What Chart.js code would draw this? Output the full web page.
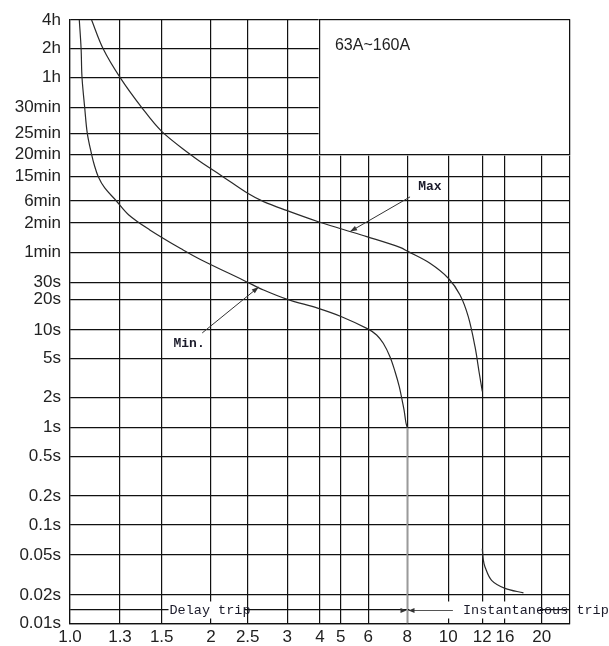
<!DOCTYPE html>
<html>
<head>
<meta charset="utf-8">
<title>Trip curve 63A~160A</title>
<script src="https://cdn.jsdelivr.net/npm/chart.js@4.4.1/dist/chart.umd.min.js"></script>
<style>
  html, body { margin: 0; padding: 0; background: #fff; }
  canvas { display: block; }
</style>
</head>
<body>
<canvas id="trip" width="609" height="646"></canvas>
<script>
// ---- Axis ticks -------------------------------------------------------
// Current as a multiple of the rated current (x axis)
const xTickValues = [1.0, 1.3, 1.5, 2, 2.5, 3, 4, 5, 6, 8, 10, 12, 16, 20, 25];
const xTickLabels = ['1.0', '1.3', '1.5', '2', '2.5', '3', '4', '5', '6', '8', '10', '12', '16', '20', ''];

// Trip time in seconds (y axis), bottom to top; 0.015 is the unlabelled trip-zone divider
const yTickValues = [0.01, 0.015, 0.02, 0.05, 0.1, 0.2, 0.5, 1, 2, 5, 10, 20, 30, 60, 120, 360, 900, 1200, 1500, 1800, 3600, 7200, 14400];
const yTickLabels = ['0.01s', '', '0.02s', '0.05s', '0.1s', '0.2s', '0.5s', '1s', '2s', '5s', '10s', '20s', '30s', '1min', '2min', '6min', '15min', '20min', '25min', '30min', '1h', '2h', '4h'];

// ---- Curves -----------------------------------------------------------
// Upper (max) band, delayed part
const maxCurrent = [1.12, 1.19, 1.3, 1.40, 1.5, 1.77, 1.88, 2.15, 2.5, 2.69, 3, 3.94, 5.09, 5.94, 7.58, 8.04, 9.05, 10, 10.65, 11.13, 11.54, 11.81, 12];
const maxTime    = [14400, 7200, 3600, 1800, 1520, 1200, 1090, 900, 480, 348, 222, 128, 103, 87, 67.5, 61, 46.7, 33.2, 22.2, 13.5, 6.64, 3.5, 2.3];

// Upper (max) band, instantaneous part
const maxInstCurrent = [12.0, 12.15, 12.42, 13.5, 16, 17.9];
const maxInstTime    = [0.058, 0.045, 0.038, 0.028, 0.0233, 0.021];

// Lower (min) band, delayed part
const minCurrent = [1.05, 1.06, 1.065, 1.08, 1.095, 1.12, 1.136, 1.16, 1.20, 1.27, 1.34, 1.44, 1.70, 1.88, 2.48, 2.69, 3, 3.94, 5.03, 6, 6.38, 6.70, 7.04, 7.31, 7.54, 7.68, 7.81, 7.92, 8];
const minTime    = [14400, 7200, 3600, 1800, 1500, 1200, 1046, 900, 588, 374, 179, 102, 63.4, 51, 30.7, 25.1, 20, 16.3, 13.5, 10.2, 8.85, 7.22, 5.2, 3.65, 2.57, 1.95, 1.5, 1.12, 1];

// Lower (min) band, instantaneous threshold
const minInstCurrent = [8, 8];
const minInstTime    = [1, 0.01];

// ---- Axis layout: where each tick sits along its axis (0 = start, 1 = end)
const xGridPositions = [0, 0.1, 0.1834, 0.282, 0.3554, 0.4346, 0.5, 0.5414, 0.5966, 0.6746, 0.7566, 0.8246, 0.87, 0.9434, 1];
const yGridPositions = [0, 0.022, 0.0469, 0.1132, 0.1629, 0.211, 0.2761, 0.3242, 0.3746, 0.4392, 0.4862, 0.537, 0.5646, 0.6149, 0.6635, 0.7, 0.7403, 0.7774, 0.8122, 0.8553, 0.905, 0.9524, 1];

const AXIS_LAYOUT = {
  x: { values: xTickValues, positions: xGridPositions, labels: xTickLabels },
  y: { values: yTickValues, positions: yGridPositions, labels: yTickLabels }
};

// Piecewise logarithmic position between neighbouring ticks
function toDecimal(layout, v) {
  const vs = layout.values, ps = layout.positions, n = vs.length;
  if (v <= vs[0]) return ps[0];
  if (v >= vs[n - 1]) return ps[n - 1];
  let i = 0;
  while (v > vs[i + 1]) i++;
  const t = Math.log(v / vs[i]) / Math.log(vs[i + 1] / vs[i]);
  return ps[i] + t * (ps[i + 1] - ps[i]);
}
function fromDecimal(layout, d) {
  const vs = layout.values, ps = layout.positions, n = vs.length;
  if (d <= ps[0]) return vs[0];
  if (d >= ps[n - 1]) return vs[n - 1];
  let i = 0;
  while (d > ps[i + 1]) i++;
  const t = (d - ps[i]) / (ps[i + 1] - ps[i]);
  return vs[i] * Math.pow(vs[i + 1] / vs[i], t);
}

// Scale whose ticks sit at fixed places along the axis
class StopScale extends Chart.Scale {
  static id = 'stops';
  static defaults = {};
  determineDataLimits() {
    const v = AXIS_LAYOUT[this.id].values;
    this.min = v[0];
    this.max = v[v.length - 1];
  }
  buildTicks() {
    return AXIS_LAYOUT[this.id].values.map(v => ({ value: v }));
  }
  getLabelForValue(v) { return String(v); }
  getPixelForValue(v) { return this.getPixelForDecimal(toDecimal(AXIS_LAYOUT[this.id], v)); }
  getPixelForTick(i) { return this.getPixelForValue(this.ticks[i].value); }
  getValueForPixel(p) { return fromDecimal(AXIS_LAYOUT[this.id], this.getDecimalForPixel(p)); }
}
Chart.register(StopScale);

const pts = (xs, ys) => xs.map((x, i) => ({ x: x, y: ys[i] }));

const INK = '#111';
const GRID_W = 1.2;
// same snapping Chart.js applies to its grid lines
const snap = p => Math.round(p - GRID_W / 2) + GRID_W / 2;
const crisp = p => Math.round(p - 0.5) + 0.5;

function arrowHead(ctx, fromX, fromY, toX, toY, len, half) {
  const a = Math.atan2(toY - fromY, toX - fromX);
  ctx.beginPath();
  ctx.moveTo(toX, toY);
  ctx.lineTo(toX - len * Math.cos(a) + half * Math.sin(a), toY - len * Math.sin(a) - half * Math.cos(a));
  ctx.lineTo(toX - len * Math.cos(a) - half * Math.sin(a), toY - len * Math.sin(a) + half * Math.cos(a));
  ctx.closePath();
  ctx.fill();
}

// Annotation anchors, in axis units (current multiple, seconds)
const ratingText = '63A~160A';
const ratingAt = { x: 4.70, y: 7740 };
const maxNote = { text: 'Max', at: { x: 9.05, y: 610 }, from: { x: 8.12, y: 420 }, to: { x: 5.32, y: 98 } };
const minNote = { text: 'Min.', at: { x: 1.76, y: 7.1 }, from: { x: 1.90, y: 9.3 }, to: { x: 2.63, y: 27 } };
const delayText = 'Delay trip';
const instText = 'Instantaneous trip';
const tripRow = 0.015;
const delayAt = 1.57;
const instAt = 10.82;
const instShaftEnd = 10.25;
const tripLimit = 8;

const annotations = {
  id: 'annotations',
  beforeDatasetsDraw(chart) {
    const { ctx, chartArea: a, scales: { x, y } } = chart;
    // Blank panel holding the rating, top right
    const xl = snap(x.getPixelForValue(4));
    const xr = snap(x.getPixelForValue(xTickValues[xTickValues.length - 1]));
    const yt = snap(y.getPixelForValue(yTickValues[yTickValues.length - 1]));
    const yb = snap(y.getPixelForValue(1200));
    ctx.save();
    ctx.fillStyle = '#fff';
    ctx.fillRect(xl - 1, yt - 1, xr - xl + 2, yb - yt + 2);
    ctx.strokeStyle = INK;
    ctx.lineWidth = GRID_W;
    ctx.strokeRect(xl, yt, xr - xl, yb - yt);
    ctx.fillStyle = '#222';
    ctx.font = '16px "Liberation Sans", Arial, sans-serif';
    ctx.textBaseline = 'middle';
    ctx.textAlign = 'left';
    ctx.fillText(ratingText, x.getPixelForValue(ratingAt.x), y.getPixelForValue(ratingAt.y));
    ctx.restore();
  },
  afterDatasetsDraw(chart) {
    const { ctx, scales: { x, y } } = chart;
    ctx.save();
    ctx.strokeStyle = '#333';
    ctx.fillStyle = '#333';
    ctx.lineWidth = 1;
    // Max / Min pointers
    [maxNote, minNote].forEach(n => {
      const fx = x.getPixelForValue(n.from.x), fy = y.getPixelForValue(n.from.y);
      const tx = x.getPixelForValue(n.to.x), ty = y.getPixelForValue(n.to.y);
      ctx.beginPath();
      ctx.moveTo(fx, fy);
      ctx.lineTo(tx, ty);
      ctx.stroke();
      arrowHead(ctx, fx, fy, tx, ty, 7, 2.5);
    });
    ctx.fillStyle = '#1a1a2a';
    ctx.font = 'bold 13px "Liberation Mono", "DejaVu Sans Mono", monospace';
    ctx.textAlign = 'center';
    ctx.textBaseline = 'middle';
    [maxNote, minNote].forEach(n => {
      ctx.fillText(n.text, x.getPixelForValue(n.at.x), y.getPixelForValue(n.at.y));
    });

    // Trip-zone row
    const ry = crisp(y.getPixelForValue(tripRow));
    const x8 = crisp(x.getPixelForValue(tripLimit));
    ctx.font = '13.5px "Liberation Mono", "DejaVu Sans Mono", monospace';
    ctx.textAlign = 'left';
    const dx = x.getPixelForValue(delayAt);
    const dw = ctx.measureText(delayText).width;
    ctx.fillStyle = '#fff';
    ctx.fillRect(dx - 1, ry - 9, dw - 5, 17);
    const ix = x.getPixelForValue(instAt);
    ctx.fillRect(x8 + 2, ry - 9, x.getPixelForValue(20) - x8 - 4, 17);
    ctx.fillStyle = '#1a1a2a';
    ctx.fillText(delayText, dx, ry);
    ctx.fillText(instText, ix, ry);
    // arrows meeting at the instantaneous limit
    ctx.fillStyle = '#333';
    ctx.strokeStyle = '#555';
    ctx.beginPath();
    ctx.moveTo(x8 + 1, ry);
    ctx.lineTo(x.getPixelForValue(instShaftEnd), ry);
    ctx.stroke();
    arrowHead(ctx, x8 - 10, ry, x8 - 1, ry, 6, 2.5);
    arrowHead(ctx, x8 + 10, ry, x8 + 1, ry, 6, 2.5);
    ctx.restore();
  }
};

const curve = (data, color, width) => ({
  data: data,
  borderColor: color,
  borderWidth: width,
  pointRadius: 0,
  fill: false,
  tension: 0.35
});

const axisFont = { family: '"Liberation Sans", Arial, sans-serif', size: 17 };

new Chart(document.getElementById('trip'), {
  type: 'line',
  data: {
    datasets: [
      curve(pts(maxCurrent, maxTime), '#2a2a2a', 1.2),
      curve(pts(maxInstCurrent, maxInstTime), '#2a2a2a', 1.2),
      curve(pts(minCurrent, minTime), '#2a2a2a', 1.2),
      curve(pts(minInstCurrent, minInstTime), '#9a9a9a', 1.6)
    ]
  },
  options: {
    responsive: false,
    devicePixelRatio: 1,
    animation: false,
    events: [],
    layout: { padding: { top: 20, right: 39, left: 0, bottom: 0 } },
    plugins: { legend: { display: false }, tooltip: { enabled: false } },
    scales: {
      x: {
        type: 'stops',
        position: 'bottom',
        afterFit: s => { s.height = 22.7; },
        grid: { color: INK, lineWidth: GRID_W, drawTicks: false },
        border: { display: true, color: INK, width: GRID_W },
        ticks: {
          autoSkip: false, maxRotation: 0, minRotation: 0, padding: 4,
          color: '#222', font: axisFont,
          callback: (v, i) => xTickLabels[i]
        }
      },
      y: {
        type: 'stops',
        position: 'left',
        afterFit: s => { s.width = 70; },
        grid: { color: INK, lineWidth: GRID_W, drawTicks: false },
        border: { display: true, color: INK, width: GRID_W },
        ticks: {
          autoSkip: false, padding: 9,
          color: '#222', font: axisFont,
          callback: (v, i) => yTickLabels[i]
        }
      }
    }
  },
  plugins: [annotations]
});
</script>
</body>
</html>
